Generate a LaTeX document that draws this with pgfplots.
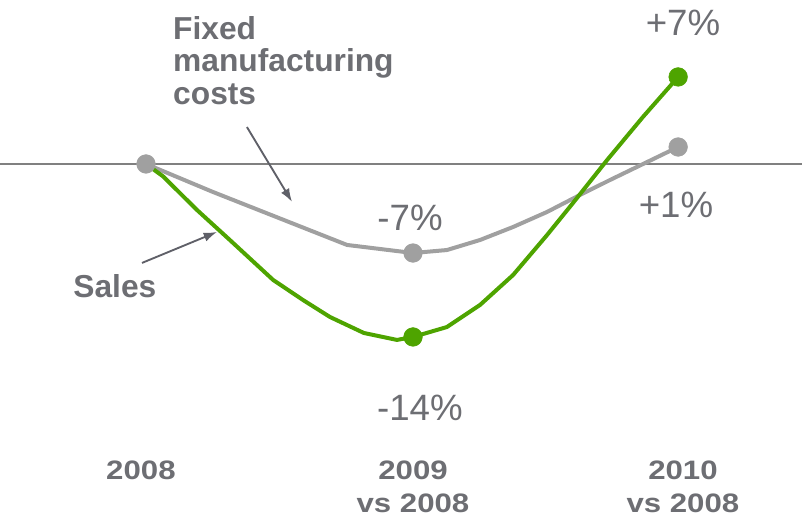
\documentclass[border=0pt]{standalone}
\usepackage{pgfplots}
\pgfplotsset{compat=1.18}
\usetikzlibrary{arrows.meta}
\usepackage{fontspec}
\setmainfont{Liberation Sans}
\definecolor{salesgreen}{HTML}{4EA400}
\definecolor{costgray}{HTML}{A0A0A0}
\definecolor{txtgray}{HTML}{6D6E73}
\definecolor{zerogray}{HTML}{808080}
\definecolor{arrowgray}{HTML}{5F6068}
\newcommand{\wide}[1]{\scalebox{1.17}[1]{#1}}
\begin{document}
\begin{tikzpicture}
\useasboundingbox (0,0) rectangle (601.5pt,387pt);
\begin{axis}[
  at={(0,0)}, anchor=south west,
  width=601.5pt, height=387pt, scale only axis,
  xmin=-0.5468, xmax=2.4569, ymin=-28.39, ymax=13.226,
  hide axis, clip=false,
]
% zero line
\addplot[zerogray, line width=2pt] coordinates {(-0.5468,0) (2.4569,0)};
% Fixed manufacturing costs
\addplot[costgray, line width=3pt, line join=round] coordinates {
(0,0) (0.251,-2.26) (0.753,-6.53) (1,-7.18) (1.127,-6.94) (1.251,-6.13)
(1.375,-5.08) (1.502,-3.87) (1.625,-2.5) (1.738,-1.29) (1.993,1.37)};
% Sales
\addplot[salesgreen, line width=3pt, line join=round] coordinates {
(0,0) (0.064,-1.0) (0.191,-3.71) (0.314,-6.13) (0.476,-9.35) (0.588,-10.97)
(0.689,-12.34) (0.816,-13.63) (0.940,-14.19) (1,-13.95) (1.127,-13.15)
(1.251,-11.37) (1.375,-8.95) (1.502,-5.73) (1.599,-3.15) (1.727,0.32)
(1.861,3.79) (1.993,7.02)};
% markers
\addplot[only marks, mark=*, mark size=7pt, costgray, mark options={draw=costgray, fill=costgray}]
  coordinates {(1,-7.18) (1.993,1.37)};
\addplot[only marks, mark=*, mark size=7pt, salesgreen, mark options={draw=salesgreen, fill=salesgreen}]
  coordinates {(1,-13.95) (1.993,7.02)};
\addplot[only marks, mark=*, mark size=7pt, costgray, mark options={draw=costgray, fill=costgray}]
  coordinates {(0,0)};
% value labels
\begin{scope}[every node/.style={text=txtgray, font=\fontsize{27.5pt}{30pt}\selectfont, inner sep=0pt}]
\node[anchor=base] at (axis cs:2.011,10.40) {+7\%};
\node[anchor=base] at (axis cs:1.985,-4.35) {+1\%};
\node[anchor=base] at (axis cs:0.989,-5.40) {-7\%};
\node[anchor=base] at (axis cs:1.026,-20.65) {-14\%};
\end{scope}
% series labels
\begin{scope}[every node/.style={text=txtgray, font=\fontsize{23.8pt}{25pt}\selectfont\bfseries, inner sep=0pt}]
\node[anchor=base west] at (axis cs:0.101,10.0) {Fixed};
\node[anchor=base west] at (axis cs:0.101,7.42) {manufacturing};
\node[anchor=base west] at (axis cs:0.101,4.76) {costs};
\node[anchor=base west] at (axis cs:-0.273,-10.73) {Sales};
\end{scope}
% categories
\begin{scope}[every node/.style={text=txtgray, font=\fontsize{20pt}{22pt}\selectfont\bfseries, inner sep=0pt}]
\node[anchor=base] at (axis cs:-0.019,-25.44) {\wide{2008}};
\node[anchor=base] at (axis cs:1,-25.44) {\wide{2009}};
\node[anchor=base] at (axis cs:1,-28.1) {\wide{vs 2008}};
\node[anchor=base] at (axis cs:2.011,-25.44) {\wide{2010}};
\node[anchor=base] at (axis cs:2.011,-28.1) {\wide{vs 2008}};
\end{scope}
% annotation arrows
\draw[arrowgray, line width=1.4pt, -{Latex[length=10pt,width=7pt]}] (axis cs:0.378,2.98) -- (axis cs:0.547,-3.06);
\draw[arrowgray, line width=1.4pt, -{Latex[length=10pt,width=7pt]}] (axis cs:-0.015,-7.98) -- (axis cs:0.266,-5.48);
\end{axis}
\end{tikzpicture}
\end{document}
